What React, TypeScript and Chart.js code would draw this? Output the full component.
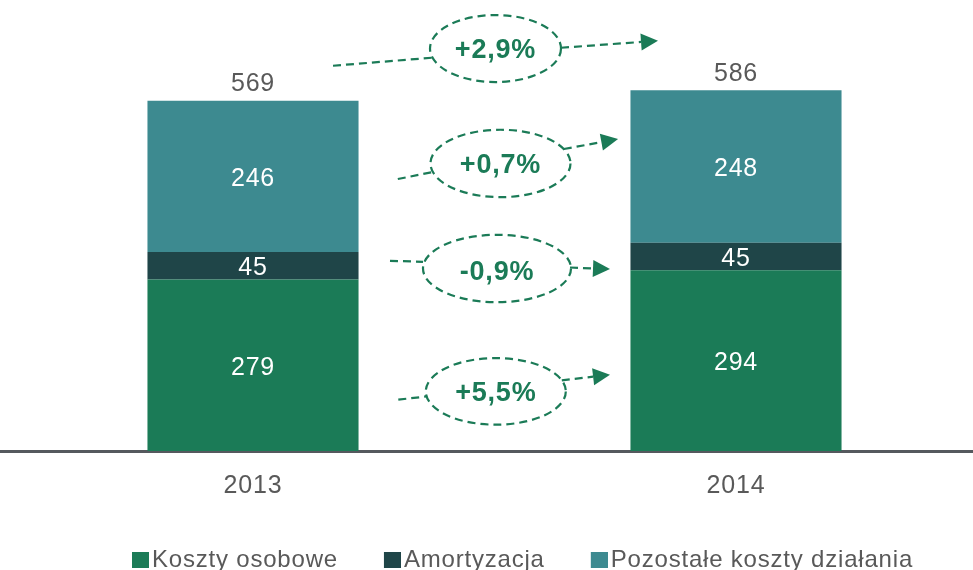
import React, { useEffect, useRef } from 'react';
import { Chart, registerables } from 'chart.js';

Chart.register(...registerables);

// ---------- data ----------
const categories = ['2013', '2014'];
const kosztyOsobowe = [279, 294];
const amortyzacja = [45, 45];
const pozostaleKoszty = [246, 248];
const totals = [569, 586];
const seriesNames = ['Koszty osobowe', 'Amortyzacja', 'Pozostałe koszty działania'];
const changeLabels = ['+2,9%', '+0,7%', '-0,9%', '+5,5%'];
const changeLevels = [655, 468, 297, 97];

// ---------- style ----------
const GREEN = '#1b7b57';
const DARK = '#1f4548';
const TEAL = '#3d8a90';
const GRAY = '#595959';
const AXIS = '#55595e';
const FONT = '"Liberation Sans", Arial, Helvetica, sans-serif';
const W = 973;
const H = 570;

// annotation shapes, px offsets relative to their centre
const annoGeom = [
  { dx: 1, rx: 65.5, ry: 33.5, l0: [-162.5, 17.2], l1: [-63.5, 9.2], r0: [65.5, -0.8], tip: [162.5, -7.8], tdy: 2.5 },
  { dx: 6, rx: 70, ry: 33.7, l0: [-102.7, 15.6], l1: [-67.7, 8.6], r0: [63.3, -14.4], tip: [117.6, -24.4], tdy: 2 },
  { dx: 2.5, rx: 74, ry: 33.7, l0: [-107, -7.7], l1: [-74, -6.7], r0: [73, -1], tip: [113, 0.6], tdy: 4.5 },
  { dx: 1.3, rx: 70, ry: 33.3, l0: [-97.5, 8.3], l1: [-69, 5], r0: [66, -11], tip: [114.2, -16.7], tdy: 1.8 },
];

const LEGEND_DX = 36;
const LEGEND_DY = -19;
const SWATCH_W = 17;
const SWATCH_H = 16;
const SWATCH_SLOT = 8;

function swatch(color: string) {
  // legend square drawn at the right end of the image so the text sits 3px to its right
  const c = document.createElement('canvas');
  const w = Math.round(2 * (SWATCH_W - SWATCH_SLOT / 2));
  c.width = w;
  c.height = SWATCH_H;
  const cx = c.getContext('2d')!;
  cx.fillStyle = color;
  cx.fillRect(w - SWATCH_W, 0, SWATCH_W, SWATCH_H);
  return c;
}

const spacingPlugin = {
  id: 'spacing',
  beforeUpdate(chart: any) { chart.ctx.letterSpacing = '0.8px'; },
  beforeDraw(chart: any) { chart.ctx.letterSpacing = '0.8px'; },
};

const legendShiftPlugin = {
  id: 'legendShift',
  afterLayout(chart: any) {
    const l = chart.legend;
    if (!l) return;
    l.left += LEGEND_DX; l.right += LEGEND_DX;
    l.top += LEGEND_DY; l.bottom += LEGEND_DY;
  },
};

const valueLabelsPlugin = {
  id: 'valueLabels',
  afterDatasetsDraw(chart: any) {
    const ctx = chart.ctx;
    ctx.save();
    ctx.textAlign = 'center';
    ctx.textBaseline = 'middle';
    ctx.font = `25px ${FONT}`;
    chart.data.datasets.forEach((ds: any, di: number) => {
      const meta = chart.getDatasetMeta(di);
      meta.data.forEach((bar: any, i: number) => {
        ctx.fillStyle = '#ffffff';
        ctx.fillText(String(ds.data[i].y), bar.x, (bar.y + bar.base) / 2 + 2.5);
      });
    });
    const lastMeta = chart.getDatasetMeta(chart.data.datasets.length - 1);
    lastMeta.data.forEach((bar: any, i: number) => {
      ctx.fillStyle = GRAY;
      ctx.fillText(String(totals[i]), bar.x, bar.y - 16.5);
    });
    ctx.restore();
  },
};

const changePlugin = {
  id: 'changes',
  afterDraw(chart: any) {
    const ctx = chart.ctx;
    const xs = chart.scales.x;
    const ys = chart.scales.y;
    const midX = xs.getPixelForValue(0.5);
    ctx.save();
    ctx.strokeStyle = GREEN;
    ctx.fillStyle = GREEN;
    ctx.lineWidth = 2.2;
    changeLabels.forEach((label, k) => {
      const g = annoGeom[k];
      const cx = midX + g.dx;
      const cy = ys.getPixelForValue(changeLevels[k]);
      ctx.setLineDash([8, 5]);
      ctx.beginPath();
      ctx.ellipse(cx, cy, g.rx, g.ry, 0, 0, Math.PI * 2);
      ctx.stroke();
      ctx.beginPath();
      ctx.moveTo(cx + g.l0[0], cy + g.l0[1]);
      ctx.lineTo(cx + g.l1[0], cy + g.l1[1]);
      ctx.stroke();
      const sx = cx + g.r0[0], sy = cy + g.r0[1];
      const tx = cx + g.tip[0], ty = cy + g.tip[1];
      const ang = Math.atan2(ty - sy, tx - sx);
      const len = 17, half = 8.5;
      const bx = tx - len * Math.cos(ang), by = ty - len * Math.sin(ang);
      ctx.beginPath();
      ctx.moveTo(sx, sy);
      ctx.lineTo(bx, by);
      ctx.stroke();
      ctx.setLineDash([]);
      ctx.beginPath();
      ctx.moveTo(tx, ty);
      ctx.lineTo(bx - half * Math.sin(ang), by + half * Math.cos(ang));
      ctx.lineTo(bx + half * Math.sin(ang), by - half * Math.cos(ang));
      ctx.closePath();
      ctx.fill();
      ctx.font = `bold 27px ${FONT}`;
      ctx.textAlign = 'center';
      ctx.textBaseline = 'middle';
      ctx.fillText(label, cx, cy + g.tdy);
    });
    ctx.restore();
  },
};

export default function App() {
  const ref = useRef<HTMLCanvasElement | null>(null);
  useEffect(() => {
    if (!ref.current) return;
    const mk = (vals: number[]) => categories.map((_, i) => ({ x: i, y: vals[i] }));
    const colors = [GREEN, DARK, TEAL];
    const swatches = colors.map(swatch);
    const chart = new Chart(ref.current, {
      type: 'bar',
      data: {
        datasets: [
          { label: seriesNames[0], data: mk(kosztyOsobowe), backgroundColor: colors[0], borderWidth: 0 },
          { label: seriesNames[1], data: mk(amortyzacja), backgroundColor: colors[1], borderWidth: 0 },
          { label: seriesNames[2], data: mk(pozostaleKoszty), backgroundColor: colors[2], borderWidth: 0 },
        ],
      } as any,
      options: {
        animation: false,
        responsive: false,
        devicePixelRatio: 1,
        layout: { padding: { top: 0, left: 0, right: 0, bottom: -31 } },
        datasets: { bar: { barPercentage: 0.437, categoryPercentage: 1 } } as any,
        scales: {
          x: {
            type: 'linear',
            bounds: 'data',
            offset: false,
            stacked: true,
            min: -253 / 483,
            max: (W - 253) / 483,
            z: 1,
            afterBuildTicks: (axis: any) => { axis.ticks = categories.map((_, i) => ({ value: i })); },
            grid: { display: false, drawTicks: false },
            border: { display: true, color: AXIS, width: 3 },
            ticks: {
              padding: 20,
              color: GRAY,
              font: { family: FONT, size: 25 },
              callback: (v: any) => categories[v as number] ?? '',
            },
          },
          y: {
            stacked: true,
            display: false,
            min: 0,
            max: 734,
          },
        } as any,
        plugins: {
          legend: {
            position: 'bottom',
            labels: {
              usePointStyle: true,
              pointStyleWidth: SWATCH_SLOT,
              boxHeight: SWATCH_H,
              padding: 46,
              color: GRAY,
              font: { family: FONT, size: 24 },
              generateLabels: (ch: any) => {
                const items = (Chart.defaults.plugins.legend.labels as any).generateLabels(ch);
                return items.map((it: any, i: number) => ({ ...it, pointStyle: swatches[i], lineWidth: 0 }));
              },
            },
          },
          tooltip: { enabled: false },
        },
      } as any,
      plugins: [spacingPlugin, legendShiftPlugin, valueLabelsPlugin, changePlugin],
    });
    return () => chart.destroy();
  }, []);
  return (
    <div style={{ position: 'fixed', left: 0, top: 0, width: W, height: H, background: '#fff' }}>
      <canvas ref={ref} width={W} height={H} style={{ display: 'block', width: W, height: H }} />
    </div>
  );
}
